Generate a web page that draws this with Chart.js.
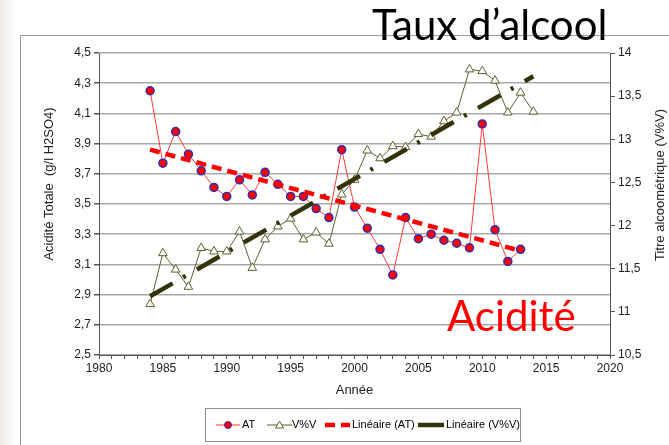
<!DOCTYPE html>
<html>
<head>
<meta charset="utf-8">
<script src="https://cdn.jsdelivr.net/npm/chart.js@4"></script>
<style>
  body { margin: 0; background: #fff; }
  canvas { display: block; }
</style>
</head>
<body>
<canvas id="grafico" width="669" height="445"></canvas>
<script>
const anneesAT = [1984, 1985, 1986, 1987, 1988, 1989, 1990, 1991, 1992, 1993, 1994, 1995, 1996, 1997, 1998,
  1999, 2000, 2001, 2002, 2003, 2004, 2005, 2006, 2007, 2008, 2009, 2010, 2011, 2012, 2013];
const acidite = [4.25, 3.77, 3.98, 3.83, 3.72, 3.61, 3.55, 3.66, 3.56, 3.71, 3.63, 3.55, 3.55, 3.47, 3.41,
  3.86, 3.48, 3.34, 3.20, 3.03, 3.41, 3.27, 3.30, 3.26, 3.24, 3.21, 4.03, 3.33, 3.12, 3.20];

const anneesVV = [1984, 1985, 1986, 1987, 1988, 1989, 1990, 1991, 1992, 1993, 1994, 1995, 1996, 1997, 1998,
  1999, 2000, 2001, 2002, 2003, 2004, 2005, 2006, 2007, 2008, 2009, 2010, 2011, 2012, 2013, 2014];
const alcool = [11.09, 11.68, 11.49, 11.29, 11.74, 11.70, 11.70, 11.93, 11.51, 11.84, 11.99, 12.08, 11.84, 11.92, 11.79,
  12.36, 12.53, 12.87, 12.78, 12.92, 12.91, 13.06, 13.03, 13.21, 13.31, 13.81, 13.79, 13.68, 13.31, 13.54, 13.32];

// droites de tendance (extrémités)
const anneesTendAT = [1984, 2013];
const tendanceAT = [3.86, 3.19];
const anneesTendVV = [1984, 2014];
const tendanceVV = [11.18, 13.73];

const virgule = (v, d) => v.toFixed(d).replace('.', ',');

const police = 'Liberation Sans, Arial, sans-serif';

function points(xs, ys) {
  return xs.map((x, i) => ({ x: x, y: ys[i] }));
}

function texteVertical(ctx, txt, x, y) {
  ctx.save();
  ctx.translate(x, y);
  ctx.rotate(-Math.PI / 2);
  ctx.textAlign = 'center';
  ctx.textBaseline = 'middle';
  ctx.fillText(txt, 0, 0);
  ctx.restore();
}

const decor = {
  id: 'decor',
  beforeDraw(chart) {
    const ctx = chart.ctx;
    ctx.save();
    // bande de fond à gauche
    const g = ctx.createLinearGradient(0, 0, 16, 0);
    g.addColorStop(0, '#ede8e4');
    g.addColorStop(1, '#ffffff');
    ctx.fillStyle = g;
    ctx.fillRect(0, 0, 16, 445);
    // cadre
    ctx.strokeStyle = '#9a9a9a';
    ctx.lineWidth = 1;
    ctx.beginPath();
    ctx.moveTo(20.5, 445);
    ctx.lineTo(20.5, 35.5);
    ctx.lineTo(669, 35.5);
    ctx.stroke();
    ctx.restore();
  },
  afterDraw(chart) {
    const ctx = chart.ctx;
    ctx.save();

    // titres des axes verticaux
    ctx.fillStyle = '#222';
    ctx.font = '13px ' + police;
    texteVertical(ctx, 'Acidité Totale  (g/l H2SO4)', 49, 184);
    texteVertical(ctx, 'Titre alcoométrique (V%V)', 660, 185);

    ctx.textBaseline = 'alphabetic';
    ctx.textAlign = 'left';
    ctx.font = '42px Lato, sans-serif';
    ctx.fillStyle = '#000';
    ctx.fillText('Taux d\u2019alcool', 372, 40, 244);
    ctx.fillStyle = '#ff0000';
    ctx.fillText('Acidité', 447, 331, 132);

    // légende
    ctx.strokeStyle = '#8c8c8c';
    ctx.lineWidth = 1;
    ctx.strokeRect(205.5, 408.5, 315, 33);
    const y = 425;
    ctx.font = '11px ' + police;
    ctx.textBaseline = 'middle';
    const ds = chart.data.datasets;
    const items = [
      { d: ds[0], x0: 216, x1: 240, tx: 242 },
      { d: ds[1], x0: 267, x1: 292, tx: 292 },
      { d: ds[2], x0: 325, x1: 350, tx: 352 },
      { d: ds[3], x0: 418, x1: 445, tx: 446 }
    ];
    items.forEach((it) => {
      const d = it.d;
      ctx.save();
      ctx.strokeStyle = d.borderColor;
      ctx.lineWidth = d.borderWidth;
      ctx.setLineDash(d.borderDash || []);
      ctx.beginPath();
      ctx.moveTo(it.x0, y);
      ctx.lineTo(it.x1, y);
      ctx.stroke();
      ctx.restore();
      if (d.pointRadius) {
        const cx = (it.x0 + it.x1) / 2;
        ctx.save();
        ctx.fillStyle = d.pointBackgroundColor;
        ctx.strokeStyle = d.pointBorderColor;
        ctx.lineWidth = 1;
        ctx.beginPath();
        if (d.pointStyle === 'triangle') {
          ctx.moveTo(cx, y - 4);
          ctx.lineTo(cx + 4, y + 3);
          ctx.lineTo(cx - 4, y + 3);
          ctx.closePath();
        } else {
          ctx.arc(cx, y, 3.5, 0, Math.PI * 2);
        }
        ctx.fill();
        ctx.stroke();
        ctx.restore();
      }
      ctx.fillStyle = '#000';
      ctx.fillText(d.label, it.tx, y);
    });
    ctx.restore();
  }
};

new Chart(document.getElementById('grafico'), {
  type: 'line',
  data: {
    datasets: [
      {
        label: 'AT',
        data: points(anneesAT, acidite),
        yAxisID: 'y',
        borderColor: '#ff3a3a',
        borderWidth: 1,
        pointRadius: 4,
        pointBackgroundColor: '#ff0000',
        pointBorderColor: '#3030b0',
        pointBorderWidth: 1.5,
        order: 2
      },
      {
        label: 'V%V',
        data: points(anneesVV, alcool),
        yAxisID: 'y2',
        borderColor: '#5e5e30',
        borderWidth: 1,
        pointStyle: 'triangle',
        pointRadius: 5,
        pointBackgroundColor: '#ffffff',
        pointBorderColor: '#5e5e30',
        pointBorderWidth: 1,
        order: 3
      },
      {
        label: 'Linéaire (AT)',
        data: points(anneesTendAT, tendanceAT),
        yAxisID: 'y',
        borderColor: '#ff0000',
        borderWidth: 4.5,
        borderDash: [10, 6],
        pointRadius: 0,
        order: 0
      },
      {
        label: 'Linéaire (V%V)',
        data: points(anneesTendVV, tendanceVV),
        yAxisID: 'y2',
        borderColor: '#33330a',
        borderWidth: 4.5,
        borderDash: [26, 12, 3, 13],
        pointRadius: 0,
        order: 1
      }
    ]
  },
  options: {
    responsive: false,
    animation: false,
    layout: { padding: { top: 53, left: 0, right: 0, bottom: 0 } },
    plugins: {
      legend: { display: false },
      tooltip: { enabled: false }
    },
    scales: {
      x: {
        type: 'linear',
        min: 1980,
        max: 2020,
        afterFit: (s) => { s.height = 90; },
        ticks: {
          stepSize: 1,
          autoSkip: false,
          maxRotation: 0,
          padding: 2,
          color: '#222',
          font: { family: police, size: 12 },
          callback: (v) => (v % 5 === 0 ? String(v) : '')
        },
        grid: { drawOnChartArea: false, tickLength: 4, tickColor: '#555' },
        border: { color: '#555', width: 1 },
        title: {
          display: true,
          text: 'Année',
          color: '#222',
          font: { family: police, size: 13 },
          padding: { top: 0, bottom: 47 }
        }
      },
      y: {
        position: 'left',
        min: 2.5,
        max: 4.5,
        afterFit: (s) => { s.width = 99; },
        ticks: {
          stepSize: 0.2,
          padding: 3,
          color: '#222',
          font: { family: police, size: 12 },
          callback: (v) => virgule(v, 1)
        },
        grid: { color: '#a8a8a8', lineWidth: 1.5, tickLength: 5, tickColor: '#555' },
        border: { color: '#555', width: 1 }
      },
      y2: {
        position: 'right',
        min: 10.5,
        max: 14,
        afterFit: (s) => { s.width = 59; },
        ticks: {
          stepSize: 0.5,
          padding: 3,
          color: '#222',
          font: { family: police, size: 12 },
          callback: (v) => (v % 1 === 0 ? String(v) : virgule(v, 1))
        },
        grid: { drawOnChartArea: false, tickLength: 5, tickColor: '#555' },
        border: { color: '#555', width: 1 }
      }
    }
  },
  plugins: [decor]
});
</script>
</body>
</html>
